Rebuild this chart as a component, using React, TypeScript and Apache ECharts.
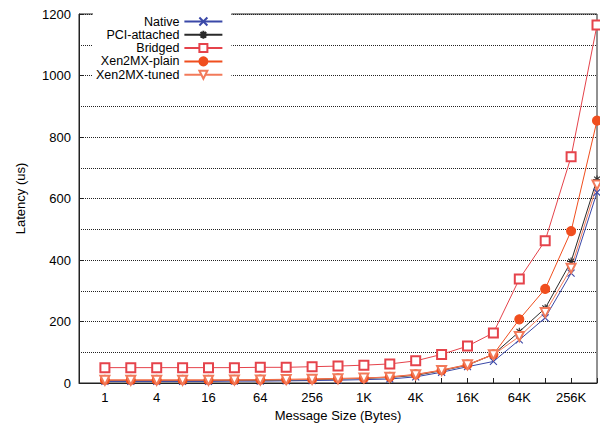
import React, { useEffect, useRef } from "react";
import * as echarts from "echarts";

const sizes = ["1", "2", "4", "8", "16", "32", "64", "128", "256", "512", "1K", "2K", "4K", "8K", "16K", "32K", "64K", "128K", "256K", "512K"];
const native = [5, 5, 5, 5, 5, 6, 6, 7, 8, 9, 11, 13, 20, 35, 53, 70, 140, 212, 357, 620];
const pciAttached = [8, 8, 8, 8, 8, 9, 9, 10, 11, 13, 15, 18, 25, 40, 58, 93, 167, 243, 395, 662];
const bridged = [50, 50, 50, 50, 50, 50, 51, 51, 53, 55, 58, 62, 72, 93, 120, 163, 338, 463, 736, 1164];
const xenPlain = [10, 10, 10, 10, 10, 10, 11, 12, 13, 15, 16, 20, 28, 42, 60, 93, 207, 306, 494, 853];
const xenTuned = [9, 9, 9, 9, 9, 10, 10, 11, 12, 14, 16, 19, 27, 41, 59, 92, 151, 229, 373, 644];

const FONT = "'Liberation Sans', Arial, Helvetica, sans-serif";

const X_PATH = "path://M0,0L10,10M10,0L0,10";
const STAR_PATH = "path://M5,0L5,10M0,5L10,5M1.5,1.5L8.5,8.5M8.5,1.5L1.5,8.5";

function pts(vals: number[]) {
  return vals.map((v, i) => [i, v]);
}

export default function App() {
  const ref = useRef<HTMLDivElement>(null);
  useEffect(() => {
    document.body.style.margin = "0";
    if (!ref.current) return;
    const chart = echarts.init(ref.current, null, { renderer: "svg" });
    const mk = (name: string, vals: number[], color: string, symbol: string, size: number, extra: any = {}) => ({
      name,
      type: "line",
      data: pts(vals),
      symbol,
      symbolSize: size,
      clip: false,
      lineStyle: { color, width: 1 },
      itemStyle: { color, borderColor: color, borderWidth: 1.1 },
      emphasis: { disabled: true },
      ...extra,
    });
    const gridLine = { show: true, lineStyle: { color: "#222", width: 1, type: "dotted" } };
    chart.setOption({
      animation: false,
      backgroundColor: "#fff",
      textStyle: { fontFamily: FONT },
      grid: { left: 79, right: 3, top: 14, bottom: 44, show: true, borderColor: "#222", borderWidth: 1 },
      legend: {
        left: 93,
        top: 12,
        orient: "vertical",
        align: "right",
        itemWidth: 38,
        itemHeight: 10,
        itemGap: 0.3,
        padding: [3, 8, 3, 3],
        backgroundColor: "#fff",
        selectedMode: false,
        textStyle: { fontFamily: FONT, fontSize: 12.5, color: "#000", width: 91, align: "right" },
        data: ["Native", "PCI-attached", "Bridged", "Xen2MX-plain", "Xen2MX-tuned"],
      },
      xAxis: {
        type: "value",
        min: -1,
        max: 19,
        interval: 1,
        name: "Message Size (Bytes)",
        nameLocation: "middle",
        nameGap: 22,
        nameTextStyle: { fontFamily: FONT, fontSize: 13, color: "#000" },
        axisLine: { onZero: false, lineStyle: { color: "#222", width: 1 } },
        axisTick: { inside: true, length: 5, lineStyle: { color: "#222" } },
        axisLabel: {
          fontFamily: FONT,
          fontSize: 13,
          color: "#000",
          margin: 8,
          formatter: (v: number) => (v >= 0 && v % 2 === 0 ? sizes[v] : ""),
        },
        splitLine: { show: false },
      },
      yAxis: {
        type: "value",
        min: 0,
        max: 1200,
        interval: 200,
        name: "Latency (us)",
        nameLocation: "middle",
        nameGap: 52,
        nameTextStyle: { fontFamily: FONT, fontSize: 13, color: "#000" },
        axisLine: { show: true, onZero: false, lineStyle: { color: "#222", width: 1 } },
        axisTick: { show: true, inside: true, length: 5, lineStyle: { color: "#222" } },
        axisLabel: { fontFamily: FONT, fontSize: 13, color: "#000", margin: 8, formatter: (v: number) => String(v) },
        splitLine: gridLine,
        minorTick: { show: false, splitNumber: 2 },
        minorSplitLine: gridLine,
      },
      series: [
        mk("Native", native, "#3a48a8", X_PATH, 7),
        mk("PCI-attached", pciAttached, "#2a2a2a", STAR_PATH, 8),
        mk("Bridged", bridged, "#e5434b", "emptyRect", 9),
        mk("Xen2MX-plain", xenPlain, "#f04e1e", "circle", 9),
        mk("Xen2MX-tuned", xenTuned, "#f27a5a", "emptyTriangle", 9, { symbolRotate: 180 }),
      ],
    });
    return () => chart.dispose();
  }, []);
  return <div ref={ref} style={{ width: 600, height: 427 }} />;
}
